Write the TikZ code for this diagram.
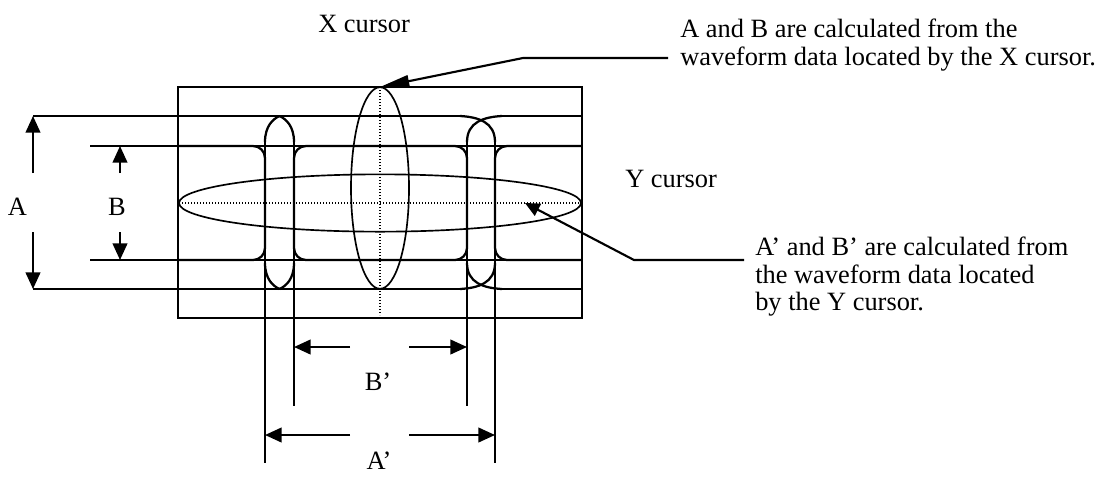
\documentclass[tikz,border=0pt]{standalone}
\usepackage{fontspec}
\setmainfont{Liberation Serif}
\usepackage{tikz}
\usetikzlibrary{arrows.meta,calc}
\tikzset{
  wave/.style={line width=1.7pt},
  frame/.style={line width=1.6pt},
  cur/.style={line width=1.25pt},
  curline/.style={line width=1.3pt,dash pattern=on 1.1pt off 1.15pt},
  ext/.style={line width=1.6pt},
  dim/.style={-{Triangle[length=12.5pt,width=11pt]},line width=1.6pt},
  lead/.style={line width=1.6pt},
  txt/.style={font=\fontsize{19.8pt}{20.4pt}\selectfont,inner sep=0pt,align=left},
}

\begin{document}
\begin{tikzpicture}[x=0.75pt,y=-0.75pt]
  \useasboundingbox (0,0) rectangle (1113,476);
  % screen frame
  \draw[frame] (178,87) rectangle (582,318);
  % outer levels (A)
  \draw[wave] (33,116) -- (460,116);
  \draw[wave] (502,116) -- (582,116);
  \draw[wave] (33,289) -- (460,289);
  \draw[wave] (502,289) -- (582,289);
  % inner levels (B)
  \draw[wave] (90,146) -- (582,146);
  \draw[wave] (90,260) -- (582,260);
  \draw[wave,rounded corners=9pt] (178,146) -- (265,146) -- (265,260) -- (178,260);
  \draw[wave,rounded corners=9pt] (294,146) rectangle (467,260);
  \draw[wave,rounded corners=9pt] (582,146) -- (495,146) -- (495,260) -- (582,260);
  % left crossing: pointed
  \foreach \c/\w in {279.5/14.5}{
    \draw[wave] ({\c+\w},142) .. controls ({\c+\w},126) and ({\c+0.45*\w},119) .. (\c,116);
    \draw[wave] ({\c-\w},142) .. controls ({\c-\w},126) and ({\c-0.45*\w},119) .. (\c,116);
    \draw[wave] ({\c+\w},263) .. controls ({\c+\w},279) and ({\c+0.45*\w},286) .. (\c,289);
    \draw[wave] ({\c-\w},263) .. controls ({\c-\w},279) and ({\c-0.45*\w},286) .. (\c,289);
  }
  % right crossing: crossed
  \foreach \c/\w/\f in {481/14/21}{
    \draw[wave] ({\c+\w},142) .. controls ({\c+\w},122) and ({\c-0.2*\w},117) .. ({\c-\f},116);
    \draw[wave] ({\c-\w},142) .. controls ({\c-\w},122) and ({\c+0.2*\w},117) .. ({\c+\f},116);
    \draw[wave] ({\c+\w},263) .. controls ({\c+\w},283) and ({\c-0.2*\w},288) .. ({\c-\f},289);
    \draw[wave] ({\c-\w},263) .. controls ({\c-\w},283) and ({\c+0.2*\w},288) .. ({\c+\f},289);
  }
  % extension lines
  \draw[ext] (265,142) -- (265,463);
  \draw[ext] (294,142) -- (294,406);
  \draw[ext] (467,142) -- (467,406);
  \draw[ext] (495,142) -- (495,463);

  % cursors
  \draw[cur] (380,188) ellipse [x radius=21.75pt, y radius=75.6pt];
  \draw[cur] (380,203) ellipse [x radius=150.75pt, y radius=21.5pt];
  \draw[curline] (380,87) -- (380,315);
  \draw[curline] (179,203) -- (581,203);

  % labels
  \node[txt,anchor=base west] (xcur) at (318,32) {X cursor};
  \node[txt,anchor=base west] (ycur) at (625,187) {Y cursor};
  \node[txt,anchor=base] (alab) at (17.5,215) {A};
  \node[txt,anchor=base] (blab) at (117,215) {B};
  \node[txt,anchor=base] (bplab) at (378,390) {B’};
  \node[txt,anchor=base] (aplab) at (379,469) {A’};
  \node[txt,anchor=north west] (xnote) at (680,19)
    {A and B are calculated from the\\waveform data located by the X cursor.};
  \node[txt,anchor=north west] (ynote) at (755,237)
    {A’ and B’ are calculated from\\the waveform data located\\by the Y cursor.};

  % dimension arrows
  \coordinate (atop) at (33,116);   \coordinate (abot) at (33,289);
  \coordinate (btop) at (120,146);  \coordinate (bbot) at (120,260);
  \coordinate (bpl) at (294,347);   \coordinate (bpr) at (467,347);
  \coordinate (apl) at (265,435);   \coordinate (apr) at (495,435);
  \draw[dim] (33,173) -- (atop);
  \draw[dim] (33,232) -- (abot);
  \draw[dim] (120,173) -- (btop);
  \draw[dim] (120,232) -- (bbot);
  \draw[dim] (350,347) -- (bpl);
  \draw[dim] (409,347) -- (bpr);
  \draw[dim] (350,435) -- (apl);
  \draw[dim] (409,435) -- (apr);

  % leaders
  \coordinate (xtip) at (380,87);
  \coordinate (ytip) at (525,203);
  \coordinate (xl) at (668,58);
  \coordinate (yl) at (744,260);
  \draw[lead,-{Triangle[length=22pt,width=9pt]}] (xl) -- (523,58) -- (xtip);
  \draw[lead,-{Triangle[length=11pt,width=10pt]}] (yl) -- (634,260) -- (ytip);
\end{tikzpicture}
\end{document}
